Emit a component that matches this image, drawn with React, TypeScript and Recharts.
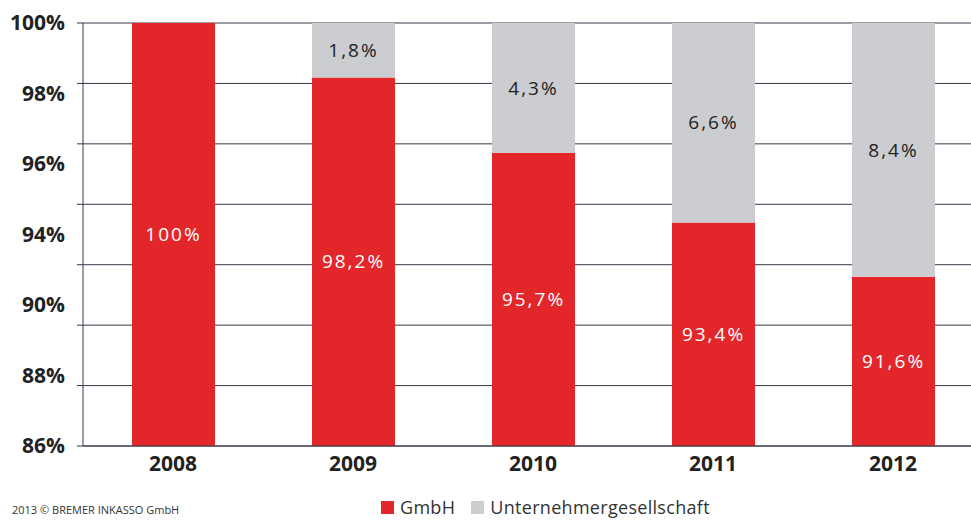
import React from 'react'
import {
  BarChart, Bar, XAxis, YAxis, CartesianGrid, Legend, LabelList,
} from 'recharts'

const YEARS = ['2008', '2009', '2010', '2011', '2012']
const GMBH = [100, 98.2, 95.7, 93.4, 91.6]
const UG = [0, 1.8, 4.3, 6.6, 8.4]

const Y_MIN = 86
const Y_MAX = 100
const GRID_TICKS = [86, 88, 90, 92, 94, 96, 98, 100]
// printed labels (the original skips 92%), spread evenly over the axis
const Y_LABELS = ['86%', '88%', '90%', '94%', '96%', '98%', '100%']
const LABEL_TICKS = Y_LABELS.map((_, i) => Y_MIN + (i * (Y_MAX - Y_MIN)) / (Y_LABELS.length - 1))
const LEGEND_ORDER = ['GmbH', 'Unternehmergesellschaft']

const RED = '#E3262A'
const GREY = '#CBCDD0'
const INK = '#222'
const LINE = '#363848'
const FONT = '"Open Sans", "Noto Sans", sans-serif'

const data = YEARS.map((year, i) => ({ year, gmbh: GMBH[i], ug: UG[i] }))

const pct = (v: any) => {
  const n = Number(v)
  if (!n) return ''
  return `${String(n).replace('.', ',')}%`
}

function LegendContent({ payload }: any) {
  const items = [...(payload || [])].sort(
    (a: any, b: any) => LEGEND_ORDER.indexOf(a.value) - LEGEND_ORDER.indexOf(b.value),
  )
  return (
    <div style={{ display: 'flex', alignItems: 'center', fontFamily: FONT, fontSize: 18, lineHeight: '20px', color: '#333', letterSpacing: 0.3 }}>
      {items.map((p: any, i: number) => (
        <div key={i} style={{ display: 'flex', alignItems: 'center', marginRight: 16 }}>
          <span style={{ display: 'inline-block', width: 13, height: 13, background: p.color, marginRight: 6 }} />
          <span>{p.value}</span>
        </div>
      ))}
    </div>
  )
}

const noTick = () => <g />

export default function App() {
  return (
    <div style={{ position: 'fixed', left: 0, top: 0, width: 971, height: 520, overflow: 'hidden', background: '#fff' }}>
      <BarChart
        width={990}
        height={520}
        data={data}
        margin={{ top: 23, right: 7, left: 0, bottom: 44 }}
      >
        <CartesianGrid vertical={false} yAxisId="grid" horizontalValues={GRID_TICKS} stroke={LINE} strokeWidth={1} />
        <XAxis
          dataKey="year"
          tickLine={false}
          tickSize={0}
          tickMargin={10}
          height={30}
          axisLine={{ stroke: LINE }}
          tick={{ fontFamily: FONT, fontSize: 21, fontWeight: 700, fill: INK }}
        />
        <XAxis xAxisId="overlay" dataKey="year" hide />
        <YAxis
          yAxisId="grid"
          type="number"
          domain={[Y_MIN, Y_MAX]}
          allowDataOverflow
          ticks={GRID_TICKS}
          interval={0}
          width={6}
          tickSize={6}
          tick={noTick}
          tickLine={{ stroke: LINE }}
          axisLine={{ stroke: LINE }}
        />
        <YAxis
          yAxisId="labels"
          type="number"
          domain={[Y_MIN, Y_MAX]}
          allowDataOverflow
          ticks={LABEL_TICKS}
          interval={0}
          width={77}
          axisLine={false}
          tickLine={false}
          tickSize={0}
          tickMargin={12}
          tickFormatter={(_v: any, i: number) => Y_LABELS[i]}
          tick={{ fontFamily: FONT, fontSize: 21, fontWeight: 700, fill: INK }}
        />
        <Bar
          name="GmbH"
          dataKey="gmbh"
          yAxisId="grid"
          fill={RED}
          barSize={83}
          isAnimationActive={false}
        >
          <LabelList
            dataKey="gmbh"
            position="center"
            formatter={pct}
            style={{ fontFamily: FONT, fontSize: 19, letterSpacing: 2, fill: '#fff' }}
          />
        </Bar>
        <Bar
          name="Unternehmergesellschaft"
          dataKey={(d: any) => [d.gmbh, d.gmbh + d.ug]}
          xAxisId="overlay"
          yAxisId="grid"
          fill={GREY}
          barSize={83}
          isAnimationActive={false}
        >
          <LabelList
            dataKey="ug"
            position="center"
            formatter={pct}
            style={{ fontFamily: FONT, fontSize: 19, letterSpacing: 2, fill: INK }}
          />
        </Bar>
        <Legend
          layout="horizontal"
          verticalAlign="middle"
          align="center"
          content={(props: any) => <LegendContent payload={props.payload} />}
          wrapperStyle={{ left: 381, top: 497, width: 'auto', height: 'auto' }}
        />
      </BarChart>
      <div style={{ position: 'absolute', left: 12, top: 503, fontFamily: FONT, fontSize: 11, lineHeight: '14px', color: '#333', whiteSpace: 'nowrap' }}>
        2013 © BREMER INKASSO GmbH
      </div>
    </div>
  )
}
